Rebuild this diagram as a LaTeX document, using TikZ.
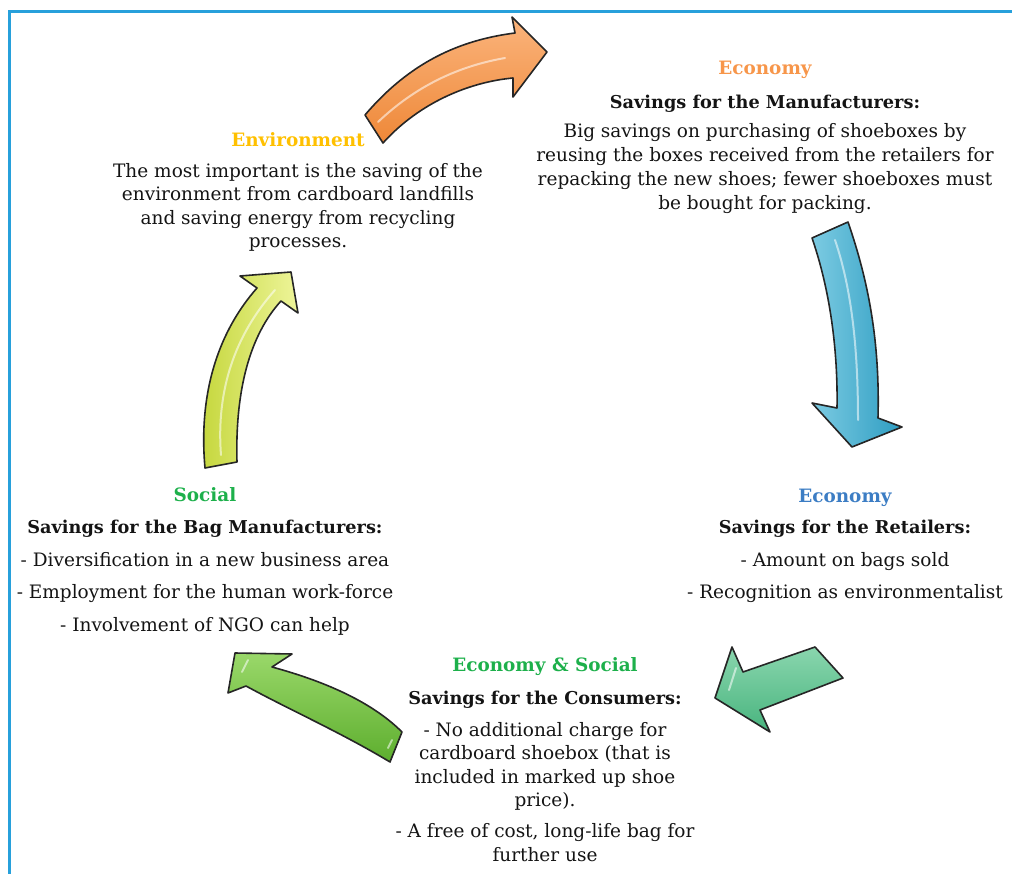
\documentclass[tikz,border=0pt]{standalone}
\usepackage{fontspec}
\setmainfont{DejaVu Serif}
\definecolor{frameblue}{HTML}{27A0DB}
\definecolor{ecoorange}{HTML}{F7964A}
\definecolor{envgold}{HTML}{FFC000}
\definecolor{ecoblue}{HTML}{3C7DC4}
\definecolor{socgreen}{HTML}{1DB04B}
\definecolor{txt}{HTML}{141414}
\definecolor{arrblueA}{HTML}{7CCBE2}
\definecolor{arrblueB}{HTML}{2E9DC2}
\definecolor{arrtealA}{HTML}{8AD6AE}
\definecolor{arrtealB}{HTML}{48B47E}
\definecolor{arrgreenA}{HTML}{9AD86A}
\definecolor{arrgreenB}{HTML}{5DAE2E}
\definecolor{arryellowA}{HTML}{EEF59A}
\definecolor{arryellowB}{HTML}{C4D63A}
\definecolor{arrorangeA}{HTML}{FBB47C}
\definecolor{arrorangeB}{HTML}{EE8838}
\tikzset{
  bodyline/.style={anchor=base, inner sep=0pt, text=txt, font=\fontsize{18.5}{22}\selectfont},
  headline/.style={anchor=base, inner sep=0pt, text=txt, font=\fontsize{17.7}{22}\selectfont\bfseries},
  titleline/.style={anchor=base, inner sep=0pt, font=\fontsize{18.4}{22}\selectfont\bfseries},
  bigarrow/.style={draw=black!85, line width=1.6pt, line join=round},
  gloss/.style={draw=white, line width=2pt, opacity=0.55, line cap=round}
}
\begin{document}
\begin{tikzpicture}[x=1pt,y=-1pt]
\useasboundingbox (0,0) rectangle (1012,874);
% frame
\draw[frameblue, line width=3pt] (9,874) -- (9,12) -- (1012,12);

% ---------- arrows ----------
% orange (top)
\path[bigarrow, top color=arrorangeA, bottom color=arrorangeB]
  (365,115) .. controls (410,62) and (460,40) .. (515,33) -- (512,17) -- (547,52) -- (513,97) -- (513,78)
  .. controls (470,82) and (420,102) .. (383,143) -- cycle;
\draw[gloss] (378,122) .. controls (420,82) and (465,65) .. (505,58);
% blue (right)
\path[bigarrow, left color=arrblueA, right color=arrblueB]
  (812,238) .. controls (830,290) and (838,350) .. (837,408) -- (812,403) -- (852,447) -- (902,427) -- (878,418)
  .. controls (880,340) and (868,280) .. (848,222) -- cycle;
\draw[gloss] (835,240) .. controls (852,290) and (858,350) .. (858,420);
% teal (lower right)
\path[bigarrow, top color=arrtealA, bottom color=arrtealB]
  (715,698) -- (732,647) -- (743,672) -- (815,647) -- (843,678) -- (760,710) -- (770,732) -- cycle;
\draw[gloss] (729,690) -- (736,668);
% green (bottom left)
\path[bigarrow, top color=arrgreenA, bottom color=arrgreenB]
  (235,653) -- (292,654) -- (272,667) .. controls (320,680) and (370,700) .. (402,732) -- (390,762)
  .. controls (340,732) and (290,710) .. (246,686) -- (228,693) -- cycle;
\draw[gloss] (242,672) -- (248,660);
\draw[gloss] (388,748) -- (392,740);
% yellow (left)
\path[bigarrow, left color=arryellowB, right color=arryellowA]
  (205,468) .. controls (198,390) and (220,330) .. (257,288) -- (240,276) -- (291,272) -- (298,313) -- (281,301)
  .. controls (250,335) and (235,390) .. (237,462) -- cycle;
\draw[gloss] (221,455) .. controls (216,390) and (235,335) .. (275,290);

% ---------- texts ----------
% Economy (manufacturers)
\node[titleline, text=ecoorange] (t1) at (765,75) {Economy};
\node[headline] (h1) at (765,109) {Savings for the Manufacturers:};
\node[bodyline] (b1a) at (765,138) {Big savings on purchasing of shoeboxes by};
\node[bodyline] (b1b) at (765,162) {reusing the boxes received from the retailers for};
\node[bodyline] (b1c) at (765,186) {repacking the new shoes; fewer shoeboxes must};
\node[bodyline] (b1d) at (765,210) {be bought for packing.};
% Environment
\node[titleline, text=envgold] (t2) at (298,147) {Environment};
\node[bodyline] (b2a) at (298,178) {The most important is the saving of the};
\node[bodyline] (b2b) at (298,201) {environment from cardboard landfills};
\node[bodyline] (b2c) at (298,225) {and saving energy from recycling};
\node[bodyline] (b2d) at (298,248) {processes.};
% Economy (retailers)
\node[titleline, text=ecoblue] (t3) at (845,502) {Economy};
\node[headline] (h3) at (845,533) {Savings for the Retailers:};
\node[bodyline] (b3a) at (845,566) {- Amount on bags sold};
\node[bodyline] (b3b) at (845,598) {- Recognition as environmentalist};
% Social
\node[titleline, text=socgreen] (t4) at (205,501) {Social};
\node[headline] (h4) at (205,533) {Savings for the Bag Manufacturers:};
\node[bodyline] (b4a) at (205,566) {- Diversification in a new business area};
\node[bodyline] (b4b) at (205,598) {- Employment for the human work-force};
\node[bodyline] (b4c) at (205,631) {- Involvement of NGO can help};
% Economy & Social
\node[titleline, text=socgreen] (t5) at (545,671) {Economy \& Social};
\node[headline] (h5) at (545,704) {Savings for the Consumers:};
\node[bodyline] (b5a) at (545,736) {- No additional charge for};
\node[bodyline] (b5b) at (545,759) {cardboard shoebox (that is};
\node[bodyline] (b5c) at (545,783) {included in marked up shoe};
\node[bodyline] (b5d) at (545,806) {price).};
\node[bodyline] (b5e) at (545,837) {- A free of cost, long-life bag for};
\node[bodyline] (b5f) at (545,861) {further use};
\end{tikzpicture}
\end{document}
